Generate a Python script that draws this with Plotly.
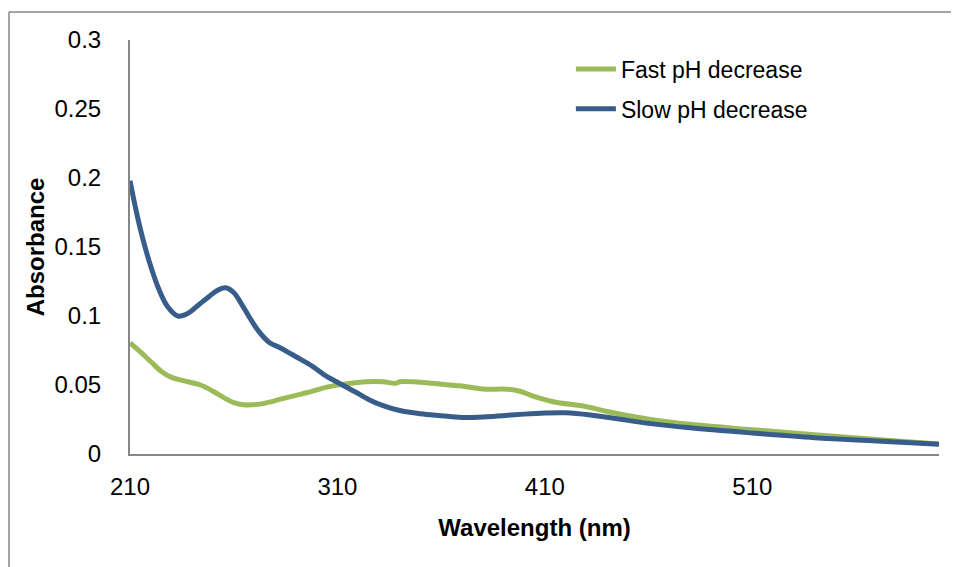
import plotly.graph_objects as go

# Data
slow_x = [210, 213, 216, 220, 224, 228, 233, 238, 243, 248, 252, 256, 260, 264, 268, 272, 277, 283,
          290, 298, 305, 311, 318, 325, 332, 340, 350, 360, 370, 382, 392, 400, 410, 420, 432, 445,
          460, 480, 510, 540, 570, 600]
slow_y = [0.198, 0.176, 0.157, 0.136, 0.119, 0.107, 0.1000, 0.102, 0.108, 0.114, 0.1185, 0.1205, 0.117,
          0.108, 0.098, 0.089, 0.081, 0.0765, 0.0705, 0.0635, 0.056, 0.0512, 0.0455, 0.0395, 0.0350,
          0.0315, 0.0292, 0.0278, 0.0265, 0.0270, 0.0280, 0.0289, 0.0297, 0.0299, 0.0283, 0.0255,
          0.0222, 0.0190, 0.0152, 0.0118, 0.0094, 0.0070]

fast_x = [210, 215, 220, 225, 230, 236, 244, 250, 255, 260, 266, 274, 284, 295, 306, 315, 324, 332,
          338, 340, 350, 356, 368, 370, 380, 392, 398, 405, 414, 430, 440, 453, 461, 480, 510, 540,
          570, 600]
fast_y = [0.0805, 0.074, 0.067, 0.060, 0.0555, 0.0530, 0.0500, 0.0455, 0.0410, 0.0372, 0.0355, 0.0365,
          0.0403, 0.0444, 0.0488, 0.0510, 0.0524, 0.0524, 0.0512, 0.0523, 0.0520, 0.0512, 0.0495,
          0.0493, 0.0471, 0.0469, 0.0455, 0.0415, 0.0379, 0.0343, 0.0308, 0.0270, 0.0251, 0.0215,
          0.0176, 0.0140, 0.0105, 0.0072]

x_ticks = [210, 310, 410, 510]
y_ticks = [0, 0.05, 0.1, 0.15, 0.2, 0.25, 0.3]

FONT = "Liberation Sans"
AXIS_GRAY = "#868686"

fig = go.Figure()
fig.add_trace(go.Scatter(x=fast_x, y=fast_y, mode="lines", name="Fast pH decrease",
                         legendgroup="fast",
                         line=dict(color="#9BBB59", width=5, shape="spline", smoothing=1.0)))
fig.add_trace(go.Scatter(x=slow_x, y=slow_y, mode="lines", name="Slow pH decrease",
                         legendgroup="slow",
                         line=dict(color="#385D8A", width=5, shape="spline", smoothing=1.0)))

# The page body adds an 8px margin, so the figure is sized/placed to compensate.
fig.update_layout(
    width=951, height=559,
    margin=dict(l=122, r=20, t=32, b=113),
    paper_bgcolor="white", plot_bgcolor="white",
    font=dict(family=FONT, size=24, color="black"),
    legend=dict(x=0.545, y=0.982, xanchor="left", yanchor="top",
                bgcolor="rgba(0,0,0,0)", font=dict(size=23),
                tracegroupgap=7, traceorder="grouped", itemwidth=40),
    xaxis=dict(range=[210, 600], tickvals=x_ticks, ticktext=[str(v) for v in x_ticks],
               showgrid=False, zeroline=False, showline=True, linecolor=AXIS_GRAY, linewidth=2,
               ticks="", ticklabelstandoff=10, tickfont=dict(size=24),
               title=dict(text="<b>Wavelength (nm)</b>", font=dict(size=24), standoff=20)),
    yaxis=dict(range=[0, 0.3], tickvals=y_ticks, ticktext=[f"{v:g}" for v in y_ticks],
               showgrid=False, zeroline=False, showline=True, linecolor=AXIS_GRAY, linewidth=2,
               ticks="", ticklabelstandoff=22, tickfont=dict(size=24),
               title=dict(text="<b>Absorbance</b>", font=dict(size=24), standoff=3)),
)

# outer chart frame (left and top edges visible)
fig.add_shape(type="line", xref="paper", yref="paper", x0=-0.1496, x1=1.03, y0=1.0676, y1=1.0676,
              line=dict(color=AXIS_GRAY, width=1.5))
fig.add_shape(type="line", xref="paper", yref="paper", x0=-0.1496, x1=-0.1496, y0=1.0676, y1=-0.30,
              line=dict(color=AXIS_GRAY, width=1.5))

fig.write_html("out.html")
